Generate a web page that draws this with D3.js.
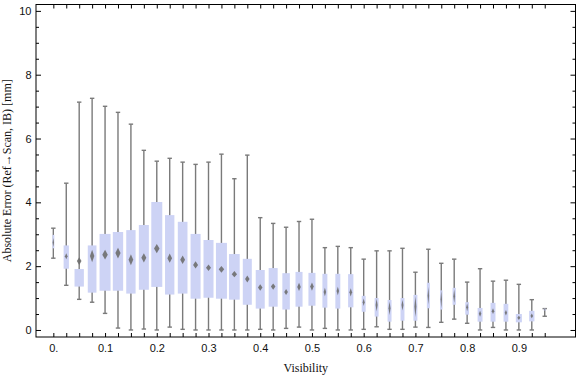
<!DOCTYPE html>
<html>
<head>
<meta charset="utf-8">
<script src="https://cdn.jsdelivr.net/npm/d3@7"></script>
<style>
  body { margin: 0; background: #fff; }
  svg { display: block; font-family: "Liberation Serif", "Times New Roman", serif; }
  .axis text { font-size: 11px; fill: #111; }
  .axis line { stroke: #000; }
  .axis path { display: none; }
</style>
</head>
<body>
<svg id="chart"></svg>
<script>
// visibility bins (one box per bin)
const visibility = [0, 0.025, 0.05, 0.075, 0.1, 0.125, 0.15, 0.175, 0.2, 0.225,
  0.25, 0.275, 0.3, 0.325, 0.35, 0.375, 0.4, 0.425, 0.45, 0.475,
  0.5, 0.525, 0.55, 0.575, 0.6, 0.625, 0.65, 0.675, 0.7, 0.725,
  0.75, 0.775, 0.8, 0.825, 0.85, 0.875, 0.9, 0.925, 0.95];

// box whisker statistics, absolute error in mm
const whiskerLow = [2.25, 1.40, 0.96, 0.87, 0.52, 0.06, 0.00, 0.03, 0.00, 0.09,
  0.02, 0.00, 0.00, 0.00, 0.00, 0.00, 0.02, 0.00, 0.05, 0.09,
  0.00, 0.05, 0.00, 0.00, 0.02, 0.10, 0.02, 0.02, 0.09, 0.08,
  0.24, 0.34, 0.21, 0.00, 0.08, 0.00, 0.00, 0.00, 0.43];
const quartile1 = [2.56, 1.92, 1.36, 1.17, 1.23, 1.23, 1.14, 1.26, 1.35, 1.11,
  1.14, 0.98, 1.01, 0.98, 0.95, 0.79, 0.67, 0.73, 0.64, 0.73,
  0.76, 0.70, 0.67, 0.71, 0.57, 0.42, 0.26, 0.29, 0.29, 0.68,
  0.64, 0.79, 0.48, 0.26, 0.26, 0.26, 0.24, 0.27, 0.60];
const medians = [2.74, 2.31, 2.16, 2.32, 2.36, 2.41, 2.20, 2.26, 2.55, 2.25,
  2.20, 2.04, 1.95, 1.90, 1.75, 1.60, 1.33, 1.36, 1.19, 1.35,
  1.36, 1.19, 1.22, 1.18, 0.87, 0.78, 0.68, 0.78, 0.73, 1.07,
  0.96, 1.06, 0.71, 0.51, 0.59, 0.54, 0.38, 0.44, 0.63];
const quartile3 = [2.98, 2.65, 1.91, 2.65, 3.01, 3.07, 3.13, 3.29, 4.01, 3.60,
  3.39, 3.01, 2.82, 2.73, 2.38, 2.23, 1.88, 1.94, 1.78, 1.82,
  1.79, 1.76, 1.76, 1.75, 1.07, 1.00, 0.94, 1.00, 1.10, 1.48,
  1.24, 1.32, 0.87, 0.69, 0.85, 0.82, 0.50, 0.60, 0.67];
const whiskerHigh = [3.19, 4.60, 7.14, 7.26, 7.01, 6.82, 6.45, 5.63, 5.29, 5.38,
  5.26, 5.19, 5.26, 5.51, 4.74, 5.48, 3.52, 3.34, 3.22, 3.40,
  3.47, 2.58, 2.62, 2.58, 2.22, 2.48, 2.48, 2.56, 1.81, 2.53,
  2.09, 2.22, 1.50, 1.92, 1.53, 1.56, 1.43, 0.95, 0.67];
// height of the median diamond (confidence band of the median)
const medianBand = [0.28, 0.19, 0.24, 0.39, 0.31, 0.34, 0.34, 0.29, 0.29, 0.29,
  0.27, 0.22, 0.21, 0.21, 0.19, 0.22, 0.20, 0.20, 0.19, 0.26,
  0.26, 0.26, 0.27, 0.26, 0.24, 0.40, 0.42, 0.34, 0.65, 0.55,
  0.57, 0.42, 0.24, 0.19, 0.18, 0.18, 0.13, 0.15, 0.07];
// relative box width (sample size)
const boxWeight = [0.18, 0.48, 0.85, 0.79, 1.00, 0.94, 0.85, 0.91, 1.00, 0.85,
  0.88, 0.91, 0.91, 1.00, 0.97, 0.82, 0.82, 0.82, 0.68, 0.64,
  0.64, 0.45, 0.45, 0.48, 0.36, 0.36, 0.36, 0.36, 0.36, 0.27,
  0.23, 0.30, 0.34, 0.45, 0.45, 0.43, 0.55, 0.48, 0.18];

const xTickValues = [0, 0.1, 0.2, 0.3, 0.4, 0.5, 0.6, 0.7, 0.8, 0.9];
const xTickLabels = ['0.', '0.1', '0.2', '0.3', '0.4', '0.5', '0.6', '0.7', '0.8', '0.9'];
const yTickValues = [0, 2, 4, 6, 8, 10];

class BoxWhiskerChart {

  constructor(_config, data) {
    this.config = {
      parentElement: _config.parentElement,
      containerWidth: _config.containerWidth || 576,
      containerHeight: _config.containerHeight || 377,
      margin: _config.margin || { top: 4.5, bottom: 40, right: 0.5, left: 36 }
    }
    this.data = data;
    this.initVis();
  }

  initVis() {
    let vis = this;

    vis.width = vis.config.containerWidth - vis.config.margin.left - vis.config.margin.right;
    vis.height = vis.config.containerHeight - vis.config.margin.top - vis.config.margin.bottom;

    vis.xScale = d3.scaleLinear()
        .domain([-0.0335, 1.0095])
        .range([0, vis.width]);

    vis.yScale = d3.scaleLinear()
        .domain([-0.22, 10.2])
        .range([vis.height, 0]);

    // box width follows the weight, largest box fills ~85% of a bin
    let binWidth = vis.xScale(0.025) - vis.xScale(0);
    vis.widthScale = d3.scaleLinear()
        .domain([0, 1])
        .range([0, binWidth * 0.85]);

    vis.svg = d3.select(vis.config.parentElement)
        .attr('width', vis.config.containerWidth)
        .attr('height', vis.config.containerHeight);

    vis.chart = vis.svg.append('g')
        .attr('transform', `translate(${vis.config.margin.left},${vis.config.margin.top})`);

    // ticks on all four sides, pointing inwards (frame style)
    let labelMap = new Map(xTickValues.map((v, i) => [v, xTickLabels[i]]));
    let xLabel = d => {
      let hit = xTickValues.find(v => Math.abs(v - d) < 1e-9);
      return hit === undefined ? '' : labelMap.get(hit);
    };
    let yMinor = d3.range(0, 10.01, 0.5).filter(v => v % 2 !== 0);

    vis.chart.append('g').attr('class', 'axis')
        .attr('transform', `translate(0,${vis.height})`)
        .call(d3.axisBottom(vis.xScale).tickValues(visibility)
          .tickSizeInner(-4).tickSizeOuter(0).tickPadding(7).tickFormat(xLabel));
    vis.chart.append('g').attr('class', 'axis')
        .call(d3.axisTop(vis.xScale).tickValues(visibility)
          .tickSizeInner(-4).tickSizeOuter(0).tickFormat(''));

    vis.chart.append('g').attr('class', 'axis')
        .call(d3.axisLeft(vis.yScale).tickValues(yTickValues)
          .tickSizeInner(-5).tickSizeOuter(0).tickPadding(4.5).tickFormat(d3.format('d')));
    vis.chart.append('g').attr('class', 'axis')
        .call(d3.axisLeft(vis.yScale).tickValues(yMinor)
          .tickSizeInner(-3).tickSizeOuter(0).tickFormat(''));
    vis.chart.append('g').attr('class', 'axis')
        .attr('transform', `translate(${vis.width},0)`)
        .call(d3.axisRight(vis.yScale).tickValues(yTickValues)
          .tickSizeInner(-5).tickSizeOuter(0).tickFormat(''));
    vis.chart.append('g').attr('class', 'axis')
        .attr('transform', `translate(${vis.width},0)`)
        .call(d3.axisRight(vis.yScale).tickValues(yMinor)
          .tickSizeInner(-3).tickSizeOuter(0).tickFormat(''));

    vis.chart.append('rect')
        .attr('width', vis.width)
        .attr('height', vis.height)
        .attr('fill', 'none')
        .attr('stroke', '#000')
        .attr('stroke-width', 1);

    // axis titles
    vis.svg.append('text')
        .attr('x', vis.config.margin.left + vis.width / 2)
        .attr('y', 371.5)
        .attr('text-anchor', 'middle')
        .style('font-size', '12px')
        .style('fill', '#111')
        .text('Visibility');

    vis.svg.append('text')
        .attr('transform', `translate(11,${vis.config.margin.top + vis.height / 2}) rotate(-90)`)
        .attr('text-anchor', 'middle')
        .style('font-size', '12px')
        .style('fill', '#111')
        .text('Absolute Error (Ref\u2192Scan, IB) [mm]');

    vis.updateVis();
  }

  updateVis() {
    let vis = this;
    let x = vis.xScale, y = vis.yScale;
    let capHalf = 2.2;

    let box = vis.chart.selectAll('.box')
        .data(vis.data)
      .join('g')
        .attr('class', 'box');

    // whisker line and caps
    box.append('line')
        .attr('x1', d => x(d.vis)).attr('x2', d => x(d.vis))
        .attr('y1', d => y(d.lo)).attr('y2', d => y(d.hi))
        .attr('stroke', '#7a7a7a').attr('stroke-width', 1.4);
    box.append('line')
        .attr('x1', d => x(d.vis) - capHalf).attr('x2', d => x(d.vis) + capHalf)
        .attr('y1', d => y(d.hi)).attr('y2', d => y(d.hi))
        .attr('stroke', '#7a7a7a').attr('stroke-width', 1.4);
    box.append('line')
        .attr('x1', d => x(d.vis) - capHalf).attr('x2', d => x(d.vis) + capHalf)
        .attr('y1', d => y(d.lo)).attr('y2', d => y(d.lo))
        .attr('stroke', '#7a7a7a').attr('stroke-width', 1.4);

    // interquartile box
    box.append('rect')
        .attr('x', d => x(d.vis) - vis.widthScale(d.weight) / 2)
        .attr('width', d => vis.widthScale(d.weight))
        .attr('y', d => y(d.q3))
        .attr('height', d => y(d.q1) - y(d.q3))
        .attr('fill', '#cdd3f5');

    // median diamond
    box.append('path')
        .attr('d', d => {
          let cx = x(d.vis), w = Math.max(vis.widthScale(d.weight) * 0.5, 1.4) / 2;
          let top = y(d.med + d.band / 2), mid = y(d.med), bot = y(d.med - d.band / 2);
          return `M${cx},${top}L${cx + w},${mid}L${cx},${bot}L${cx - w},${mid}Z`;
        })
        .attr('fill', '#6e6e6e')
        .attr('fill-opacity', 0.9);
  }
}

let boxData = visibility.map((v, i) => ({
  vis: v,
  lo: whiskerLow[i],
  q1: quartile1[i],
  med: medians[i],
  q3: quartile3[i],
  hi: whiskerHigh[i],
  band: medianBand[i],
  weight: boxWeight[i]
}));

new BoxWhiskerChart({ parentElement: '#chart' }, boxData);
</script>
</body>
</html>
